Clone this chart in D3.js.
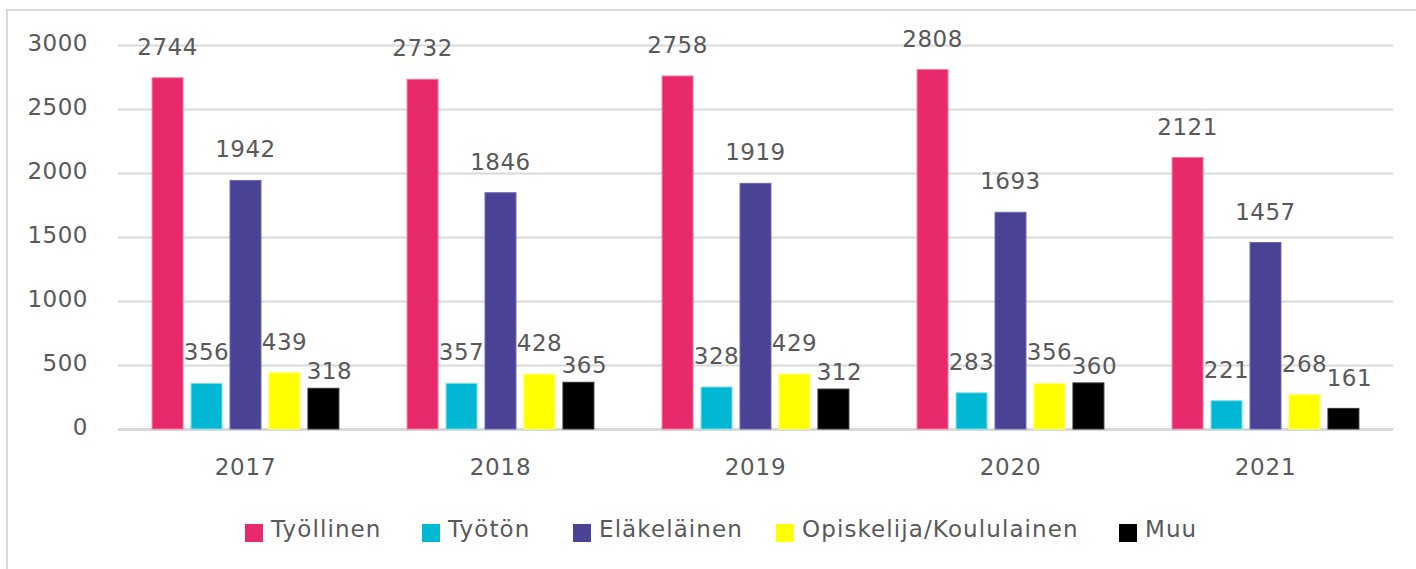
<!DOCTYPE html>
<html><head><meta charset="utf-8">
<script src="https://cdn.jsdelivr.net/npm/d3@7"></script>
<style>
html,body{margin:0;padding:0;background:#fff;}
text{font-family:"DejaVu Sans",sans-serif;fill:#595959;}
</style></head>
<body><svg id="c" width="1416" height="569"></svg>
<script>
const years = ["2017","2018","2019","2020","2021"];
const seriesNames = ["Työllinen","Työtön","Eläkeläinen","Opiskelija/Koululainen","Muu"];
const tyollinen = [2744,2732,2758,2808,2121];
const tyoton = [356,357,328,283,221];
const elakelainen = [1942,1846,1919,1693,1457];
const opiskelija = [439,428,429,356,268];
const muu = [318,365,312,360,161];
const yTicks = [0,500,1000,1500,2000,2500,3000];

const seriesValues = [tyollinen,tyoton,elakelainen,opiskelija,muu];
const colors = ["#E8296B","#00B8D4","#4A4295","#FFFF00","#000000"];
const strokes = ["#F27AA0","#7FDCEA","#6E68AE","#FFFF66","#333333"];

const svg = d3.select("#c");
// outer border
svg.append("rect").attr("x",7).attr("y",10).attr("width",1420).attr("height",570)
  .attr("fill","none").attr("stroke","#d9d9d9").attr("stroke-width",2);

const L=118, R=1393, T=45, B=429;
const x0 = d3.scaleBand().domain(years).range([L,R]).paddingInner(0.236).paddingOuter(0.118);
const x1 = d3.scaleBand().domain(d3.range(seriesNames.length)).range([0,x0.bandwidth()]).paddingInner(0.205).paddingOuter(0.1025);
const y = d3.scaleLinear().domain([0,3000]).range([B,T]);

// gridlines
const yAxis = d3.axisLeft(y).tickValues(yTicks).tickSize(-(R-L)).tickPadding(30).tickFormat(d3.format("d"));
const ga = svg.append("g").attr("transform",`translate(${L},0)`).call(yAxis);
ga.select(".domain").remove();
ga.selectAll(".tick line").attr("stroke","#d9d9d9").attr("stroke-width",2);
ga.selectAll(".tick text").attr("font-size",23).attr("fill","#595959").attr("dy","0.22em").attr("letter-spacing","0.5px");
ga.selectAll(".tick").filter(d=>d===0).select("line").attr("stroke-width",3);

// bars
const labelLift = {4:9};
const labelShift = {4:6};
const labelOverride = {"4-2021":22};
seriesNames.forEach((s,si)=>{
  const g = svg.append("g");
  g.selectAll("rect").data(years).join("rect")
    .attr("x",d=>x0(d)+x1(si)).attr("y",(d,i)=>y(seriesValues[si][i]))
    .attr("width",x1.bandwidth()).attr("height",(d,i)=>B-y(seriesValues[si][i]))
    .attr("fill",colors[si]).attr("stroke",strokes[si]).attr("stroke-width",1);
  g.selectAll("text").data(years).join("text")
    .attr("x",d=>x0(d)+x1(si)+x1.bandwidth()/2+(labelShift[si]||0))
    .attr("y",(d,i)=>{
      const key=si+"-"+d;
      const lift = labelOverride[key]!==undefined?labelOverride[key]:(labelLift[si]!==undefined?labelLift[si]:23);
      return y(seriesValues[si][i])-lift;})
    .attr("text-anchor","middle").attr("font-size",23).attr("letter-spacing","0.5px")
    .text((d,i)=>seriesValues[si][i]);
});

// x axis labels
const xAxis = d3.axisBottom(x0).tickSize(0).tickPadding(30);
const gx = svg.append("g").attr("transform",`translate(0,${B})`).call(xAxis);
gx.select(".domain").remove();
gx.selectAll(".tick text").attr("font-size",23).attr("fill","#595959").attr("letter-spacing","0.8px");

// legend
const legX = [245,422,573,776,1119];
const lg = svg.append("g");
seriesNames.forEach((s,si)=>{
  lg.append("rect").attr("x",legX[si]).attr("y",524).attr("width",18).attr("height",18).attr("fill",colors[si]);
  lg.append("text").attr("x",legX[si]+26).attr("y",537).attr("font-size",23).attr("letter-spacing","1.1px").text(s);
});
</script></body></html>
